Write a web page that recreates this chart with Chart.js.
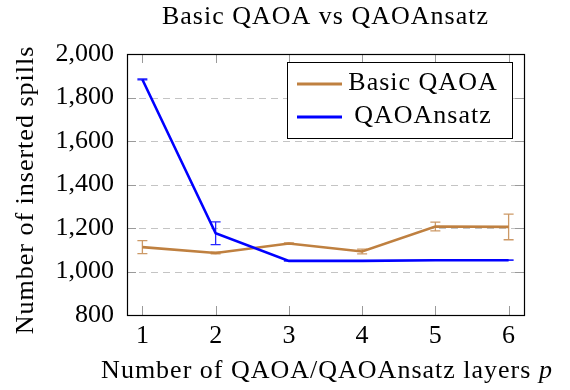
<!DOCTYPE html>
<html>
<head>
<meta charset="utf-8">
<script src="https://cdn.jsdelivr.net/npm/chart.js@4/dist/chart.umd.min.js"></script>
<style>
  html, body { margin: 0; padding: 0; background: #fff; }
  #wrap { width: 570px; height: 390px; }
</style>
</head>
<body>
<div id="wrap"><canvas id="c" width="570" height="390"></canvas></div>
<script>
// ---- data ----
const layers = [1, 2, 3, 4, 5, 6];
const basicQAOA = [1112, 1085, 1129, 1092, 1207, 1205];
const basicQAOAErr = [30, 4, 2, 11, 20, 59];
const qaoansatz = [1883, 1176, 1049, 1049, 1052, 1052];
const qaoansatzErr = [2, 52, 1, 1, 1, 1];
const yTicks = [800, 1000, 1200, 1400, 1600, 1800, 2000];
const seriesNames = ['Basic QAOA', 'QAOAnsatz'];
const chartTitle = 'Basic QAOA vs QAOAnsatz';
const xTitle = 'Number of QAOA/QAOAnsatz layers p';
const yTitle = 'Number of inserted spills';

const FONT = '"Liberation Serif", "Times New Roman", serif';
const BROWN = 'rgb(191,128,64)';
const BLUE = 'rgb(0,0,255)';

function pts(vals) { return layers.map((x, i) => ({ x: x, y: vals[i] })); }

const extras = {
  id: 'extras',
  beforeDatasetsDraw(chart) {
    const { ctx, chartArea: a, scales: { x, y } } = chart;
    ctx.save();
    ctx.strokeStyle = '#c4c4c4';
    ctx.lineWidth = 1;
    ctx.setLineDash([7, 5]);
    yTicks.forEach(v => {
      if (v === 800 || v === 2000) return;
      const py = Math.round(y.getPixelForValue(v)) + 0.5;
      ctx.beginPath(); ctx.moveTo(a.left, py); ctx.lineTo(a.right, py); ctx.stroke();
    });
    ctx.restore();
  },
  afterDatasetsDraw(chart) {
    const { ctx, chartArea: a, scales: { x, y } } = chart;
    // error bars
    const sets = [[basicQAOA, basicQAOAErr, 'rgba(191,128,64,0.8)'], [qaoansatz, qaoansatzErr, 'rgba(0,0,255,0.85)']];
    ctx.save();
    sets.forEach(([vals, errs, col]) => {
      ctx.strokeStyle = col;
      ctx.lineWidth = 1.3;
      layers.forEach((lx, i) => {
        const px = x.getPixelForValue(lx);
        const top = y.getPixelForValue(vals[i] + errs[i]);
        const bot = y.getPixelForValue(vals[i] - errs[i]);
        ctx.beginPath();
        ctx.moveTo(px, top); ctx.lineTo(px, bot);
        ctx.moveTo(px - 5, top); ctx.lineTo(px + 5, top);
        ctx.moveTo(px - 5, bot); ctx.lineTo(px + 5, bot);
        ctx.stroke();
      });
    });
    ctx.restore();

    // tick marks (inside)
    ctx.save();
    ctx.strokeStyle = '#9a9a9a';
    ctx.lineWidth = 1;
    layers.forEach(v => {
      const px = Math.round(x.getPixelForValue(v)) + 0.5;
      ctx.beginPath();
      ctx.moveTo(px, a.bottom); ctx.lineTo(px, a.bottom - 9);
      ctx.moveTo(px, a.top); ctx.lineTo(px, a.top + 9);
      ctx.stroke();
    });
    yTicks.forEach(v => {
      const py = Math.round(y.getPixelForValue(v)) + 0.5;
      ctx.beginPath();
      ctx.moveTo(a.left, py); ctx.lineTo(a.left + 9, py);
      ctx.moveTo(a.right, py); ctx.lineTo(a.right - 9, py);
      ctx.stroke();
    });
    ctx.restore();

    // frame
    ctx.save();
    ctx.strokeStyle = '#000';
    ctx.lineWidth = 1.2;
    ctx.strokeRect(Math.round(a.left) + 0.5, Math.round(a.top) + 0.5, Math.round(a.right - a.left), Math.round(a.bottom - a.top));
    ctx.restore();

    // legend
    ctx.save();
    const lx0 = 287, ly0 = 62, lw = 225, lh = 76;
    ctx.fillStyle = '#fff';
    ctx.fillRect(lx0, ly0, lw, lh);
    ctx.strokeStyle = '#000';
    ctx.lineWidth = 1;
    ctx.strokeRect(lx0 + 0.5, ly0 + 0.5, lw, lh);
    const rows = [84, 117];
    const baselines = [90, 123];
    ctx.letterSpacing = '1px';
    chart.data.datasets.forEach((ds, i) => {
      ctx.strokeStyle = ds.borderColor;
      ctx.lineWidth = 3;
      ctx.beginPath(); ctx.moveTo(297, rows[i]); ctx.lineTo(342, rows[i]); ctx.stroke();
      ctx.fillStyle = '#000';
      ctx.font = '26px ' + FONT;
      ctx.textAlign = 'center';
      ctx.textBaseline = 'alphabetic';
      ctx.fillText(ds.label, 423, baselines[i]);
    });
    ctx.restore();

    // titles
    ctx.save();
    ctx.letterSpacing = '1px';
    ctx.fillStyle = '#000';
    ctx.textAlign = 'center';
    ctx.textBaseline = 'alphabetic';
    ctx.font = '26px ' + FONT;
    ctx.fillText(chartTitle, (a.left + a.right) / 2, 24);
    // x title with italic p
    const main = xTitle.slice(0, -1);
    const last = xTitle.slice(-1);
    ctx.font = '26px ' + FONT;
    const w1 = ctx.measureText(main).width;
    ctx.font = 'italic 26px ' + FONT;
    const w2 = ctx.measureText(last).width;
    const startX = 327 - (w1 + w2) / 2;
    ctx.textAlign = 'left';
    ctx.font = '26px ' + FONT;
    ctx.fillText(main, startX, 378);
    ctx.font = 'italic 26px ' + FONT;
    ctx.fillText(last, startX + w1, 378);
    // y title
    ctx.translate(33, 190);
    ctx.rotate(-Math.PI / 2);
    ctx.textAlign = 'center';
    ctx.font = '26px ' + FONT;
    ctx.fillText(yTitle, 0, 0);
    ctx.restore();
  }
};

new Chart(document.getElementById('c'), {
  type: 'line',
  data: {
    datasets: [
      { label: seriesNames[0], data: pts(basicQAOA), borderColor: BROWN, backgroundColor: BROWN, borderWidth: 2.6, pointRadius: 0, tension: 0, order: 2 },
      { label: seriesNames[1], data: pts(qaoansatz), borderColor: BLUE, backgroundColor: BLUE, borderWidth: 2.6, pointRadius: 0, tension: 0, order: 1 }
    ]
  },
  options: {
    responsive: false,
    animation: false,
    events: [],
    layout: { padding: { top: 54, right: 46, left: 0, bottom: 0 } },
    plugins: { legend: { display: false }, title: { display: false }, tooltip: { enabled: false } },
    scales: {
      x: {
        type: 'linear', min: 0.79, max: 6.21,
        afterBuildTicks: s => { s.ticks = layers.map(v => ({ value: v })); },
        afterFit: s => { s.height = 75; },
        grid: { display: false, drawTicks: false },
        border: { display: false },
        ticks: { color: '#000', padding: 6, font: { family: FONT, size: 26 }, maxRotation: 0 }
      },
      y: {
        type: 'linear', min: 800, max: 2000,
        afterBuildTicks: s => { s.ticks = yTicks.map(v => ({ value: v })); },
        afterFit: s => { s.width = 127; },
        grid: { display: false, drawTicks: false },
        border: { display: false },
        ticks: { color: '#000', padding: 13, font: { family: FONT, size: 26 },
          callback: v => v.toLocaleString('en-US') }
      }
    }
  },
  plugins: [extras]
});
</script>
</body>
</html>
